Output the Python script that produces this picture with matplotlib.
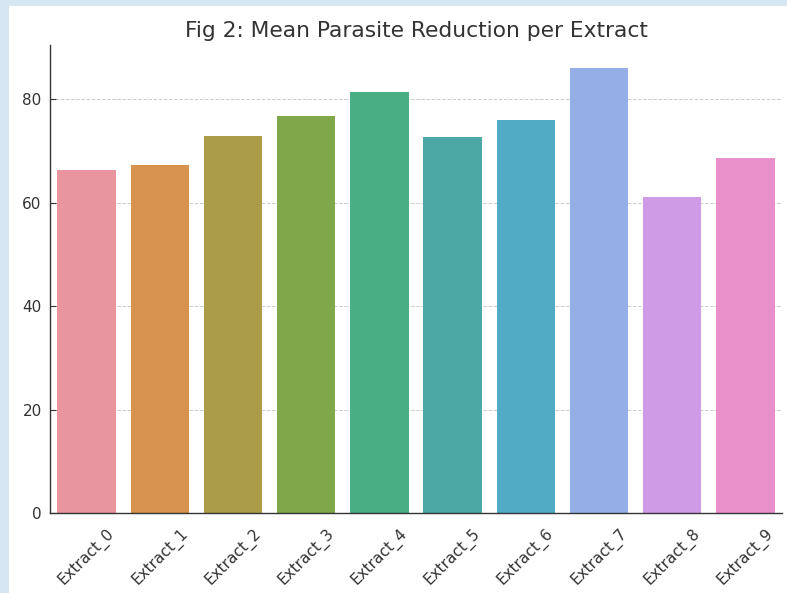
import matplotlib
matplotlib.use("Agg")
import matplotlib.pyplot as plt
from matplotlib.patches import Rectangle

categories = [f"Extract_{i}" for i in range(10)]
values = [66.4, 67.3, 72.9, 76.8, 81.4, 72.7, 76.0, 86.1, 61.1, 68.7]
yticks = [0, 20, 40, 60, 80]

colors = ["#e9959f", "#d6924e", "#aa9c48", "#80a84a", "#4aae84",
          "#4ba8a4", "#51abc5", "#95afe6", "#cf9ae6", "#e98fca"]

W, H = 787, 593
fig = plt.figure(figsize=(W / 100, H / 100), dpi=100, facecolor="#d6e6f2")
fig.patches.append(Rectangle((9 / W, 0), 1 - 9 / W, 1 - 6 / H, transform=fig.transFigure,
                             facecolor="white", edgecolor="none", zorder=-10))
ax = fig.add_axes([50 / W, (H - 513) / H, (782 - 50) / W, (513 - 45) / H])
ax.set_zorder(1)
ax.set_facecolor("white")

x = list(range(len(categories)))
ax.bar(x, values, width=0.8, color=colors, zorder=2)
ax.set_xlim(-0.5, len(categories) - 0.5)
ax.set_ylim(0, 90.5)
ax.set_xticks(x)
ax.set_xticklabels(categories, rotation=45, fontsize=11, color="#333333")
ax.set_yticks(yticks)
ax.set_yticklabels([str(t) for t in yticks], fontsize=11, color="#333333")
ax.tick_params(direction="in", length=4, color="#333333")
ax.tick_params(axis="x", pad=9)
ax.tick_params(axis="y", pad=6)
ax.yaxis.grid(True, linestyle="--", color="#cccccc", linewidth=0.7, zorder=0)
ax.set_axisbelow(True)
for s in ["top", "right"]:
    ax.spines[s].set_visible(False)
for s in ["left", "bottom"]:
    ax.spines[s].set_color("#333333")
    ax.spines[s].set_linewidth(1.0)
ax.set_title("Fig 2: Mean Parasite Reduction per Extract", fontsize=15.7, color="#333333", pad=6)

fig.savefig("out.png", dpi=100, facecolor=fig.get_facecolor())
